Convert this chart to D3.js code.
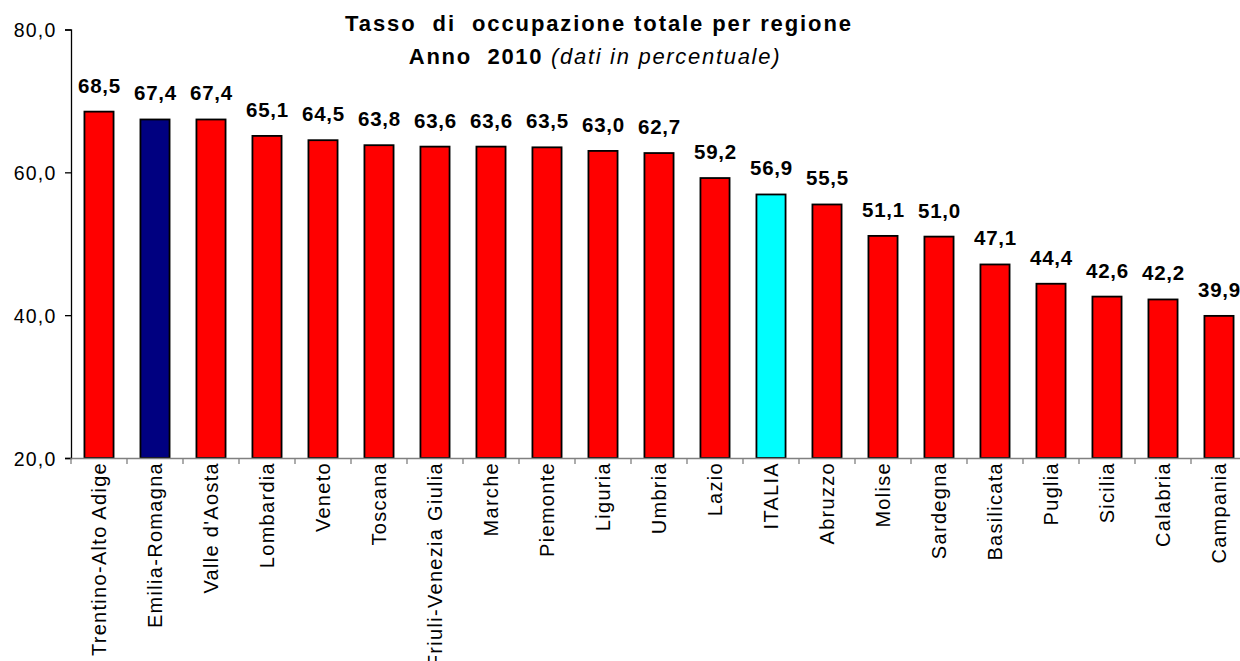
<!DOCTYPE html>
<html><head><meta charset="utf-8">
<script src="https://cdn.jsdelivr.net/npm/d3@7"></script>
<style>
html,body{margin:0;padding:0;background:#fff;}
svg{display:block;font-family:Arial,"Liberation Sans",sans-serif;}
</style></head>
<body>
<svg id="chart" width="1240" height="661"></svg>
<script>
const categories = ["Trentino-Alto Adige","Emilia-Romagna","Valle d'Aosta","Lombardia","Veneto","Toscana","Friuli-Venezia Giulia","Marche","Piemonte","Liguria","Umbria","Lazio","ITALIA","Abruzzo","Molise","Sardegna","Basilicata","Puglia","Sicilia","Calabria","Campania"];
const values = [68.5,67.4,67.4,65.1,64.5,63.8,63.6,63.6,63.5,63.0,62.7,59.2,56.9,55.5,51.1,51.0,47.1,44.4,42.6,42.2,39.9];
const highlight = {"Emilia-Romagna":"#000080","ITALIA":"#00FFFF"};
const yTicks = [20,40,60,80];
const titleLine1 = "Tasso  di  occupazione totale per regione";
const titleLine2a = "Anno  2010 ";
const titleLine2b = "(dati in percentuale)";

(function(){
const svg = d3.select("#chart");
const mLeft = 71, mBottom = 458, mTop = 29.5, bandW = 56;
const x = d3.scaleBand().domain(categories).range([mLeft, mLeft + bandW*categories.length]).paddingInner(0.48).paddingOuter(0.24);
const y = d3.scaleLinear().domain([20,80]).range([mBottom, mTop]);
const fmt = v => d3.format(".1f")(v).replace(".", ",");

svg.append("g").selectAll("rect").data(categories).join("rect")
  .attr("x", d => x(d))
  .attr("y", (d,i) => y(values[i]))
  .attr("width", x.bandwidth())
  .attr("height", (d,i) => mBottom - y(values[i]))
  .attr("fill", d => highlight[d] || "#FF0000")
  .attr("stroke", "#000").attr("stroke-width", 1.8);

svg.append("g").selectAll("text").data(categories).join("text")
  .attr("x", d => x(d) + x.bandwidth()/2 + 0.5)
  .attr("y", (d,i) => y(values[i]) - 19)
  .attr("text-anchor","middle")
  .attr("font-weight","bold").attr("font-size", 20.5).attr("letter-spacing", 0.8)
  .text((d,i) => fmt(values[i]));

const yAxis = d3.axisLeft(y).tickValues(yTicks).tickSize(6).tickFormat(fmt);
const gy = svg.append("g").attr("transform", `translate(${mLeft},0)`).call(yAxis);
gy.select(".domain").attr("stroke","#000").attr("stroke-width",1.3);
gy.selectAll(".tick line").attr("stroke","#000").attr("stroke-width",1.3);
gy.selectAll(".tick text").attr("font-size", 19.5).attr("letter-spacing", 1.2)
  .attr("font-family","Arial,'Liberation Sans',sans-serif").attr("fill","#000").attr("x",-14.5).attr("dy","0.36em");

const xAxis = d3.axisBottom(x).tickSize(0).tickSizeOuter(0);
const gx = svg.append("g").attr("transform", `translate(0,${mBottom})`).call(xAxis);
gx.select(".domain").attr("stroke","#808080").attr("stroke-width",1.3);
gx.selectAll(".tick text")
  .attr("font-size", 20).attr("letter-spacing", 1.3)
  .attr("font-family","Arial,'Liberation Sans',sans-serif").attr("fill","#000")
  .attr("transform","rotate(-90)")
  .attr("text-anchor","end")
  .attr("x", -4).attr("y", 0).attr("dy","0.36em");
svg.append("g").selectAll("line").data(categories).join("line")
  .attr("x1", d => x(d) - x.step()*x.paddingInner()/2)
  .attr("x2", d => x(d) - x.step()*x.paddingInner()/2)
  .attr("y1", mBottom).attr("y2", mBottom + 6)
  .attr("stroke","#808080").attr("stroke-width",1.3);

svg.append("text").attr("x", 599).attr("y", 31).attr("text-anchor","middle")
  .attr("font-weight","bold").attr("font-size", 22).attr("letter-spacing", 1.9).style("white-space","pre")
  .text(titleLine1);
const t2 = svg.append("text").attr("x", 595).attr("y", 64).attr("text-anchor","middle")
  .attr("font-size", 22).attr("letter-spacing", 1.7).style("white-space","pre");
t2.append("tspan").attr("font-weight","bold").text(titleLine2a);
t2.append("tspan").attr("font-style","italic").text(titleLine2b);
})();
</script>
</body></html>
